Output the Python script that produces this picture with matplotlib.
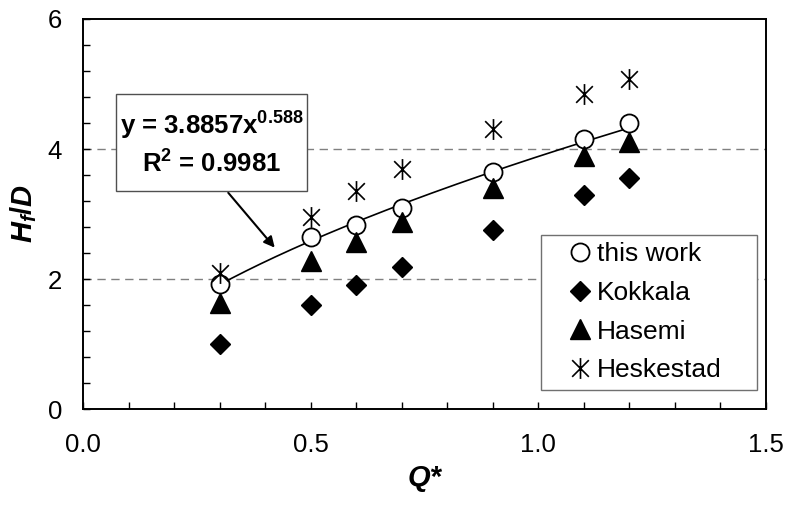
import numpy as np
import matplotlib
matplotlib.use("Agg")
import matplotlib.pyplot as plt
from matplotlib.path import Path
from matplotlib.patches import Rectangle

plt.rcParams['font.family'] = 'Liberation Sans'
plt.rcParams['mathtext.fontset'] = 'custom'
plt.rcParams['mathtext.rm'] = 'Liberation Sans:bold'
plt.rcParams['mathtext.it'] = 'Liberation Sans:bold:italic'
plt.rcParams['mathtext.bf'] = 'Liberation Sans:bold'

# flame height vs. dimensionless heat release rate
q_star = [0.3, 0.5, 0.6, 0.7, 0.9, 1.1, 1.2]
this_work = [1.93, 2.64, 2.83, 3.10, 3.65, 4.15, 4.40]
kokkala = [1.00, 1.60, 1.91, 2.18, 2.75, 3.30, 3.56]
hasemi = [1.63, 2.27, 2.57, 2.88, 3.40, 3.89, 4.11]
heskestad = [2.09, 2.95, 3.36, 3.69, 4.31, 4.85, 5.08]

# power-law trendline y = a * x^b
fit_a = 3.8857
fit_b = 0.588
fit_r2 = 0.9981

# asterisk marker: vertical bar plus an X
star = Path([(0, -1), (0, 1), (-0.8, -0.8), (0.8, 0.8), (-0.8, 0.8), (0.8, -0.8)],
            [Path.MOVETO, Path.LINETO, Path.MOVETO, Path.LINETO, Path.MOVETO, Path.LINETO])

fig = plt.figure(figsize=(7.87, 5.05), dpi=100)
ax = fig.add_axes([0.1055, 0.190, 0.8678, 0.7724])

ax.axhline(2, color='#808080', lw=1, ls=(0, (6, 4)), zorder=0)
ax.axhline(4, color='#808080', lw=1, ls=(0, (6, 4)), zorder=0)

xf = np.linspace(min(q_star), max(q_star), 200)
ax.plot(xf, fit_a * xf ** fit_b, color='black', lw=1.2, zorder=2)

ax.plot(q_star, this_work, 'o', ms=13, mfc='white', mec='black', mew=1.3, ls='none',
        label='this work', zorder=3)
ax.plot(q_star, kokkala, 'D', ms=10, color='black', ls='none', label='Kokkala', zorder=3)
ax.plot(q_star, hasemi, '^', ms=15, color='black', ls='none', label='Hasemi', zorder=3)
ax.plot(q_star, heskestad, marker=star, ms=15, mec='black', mew=1.2, ls='none',
        label='Heskestad', zorder=3)

ax.set_xlim(0, 1.5)
ax.set_ylim(0, 6)
ax.set_xticks([0, 0.5, 1.0, 1.5])
ax.set_xticks(np.arange(0, 1.51, 0.1), minor=True)
ax.set_yticks([0, 2, 4, 6])
ax.set_yticks(np.arange(0, 6.01, 0.4), minor=True)
ax.set_xticklabels(['0.0', '0.5', '1.0', '1.5'])
ax.tick_params(axis='both', which='both', direction='in', length=5, width=1, labelsize=18.5)
ax.tick_params(axis='x', which='major', pad=17)
ax.tick_params(axis='y', which='major', pad=15)
for s in ax.spines.values():
    s.set_linewidth(1.4)

ax.set_xlabel('Q*', fontsize=21, fontweight='bold', style='italic', labelpad=5)
ax.set_ylabel(r'$H_f/D$', fontsize=21, labelpad=6)

# legend with a separate frame
ax.add_patch(Rectangle((0.6706, 0.0487), 0.3162, 0.3973, transform=ax.transAxes,
                       fc='white', ec='#707070', lw=1.0, zorder=4))
leg = ax.legend(loc='upper left', bbox_to_anchor=(0.7123, 0.427), borderaxespad=0,
                borderpad=0, fontsize=19, frameon=False,
                handlelength=0.8, handletextpad=0.25, labelspacing=0.55, numpoints=1)
leg.set_zorder(5)

# trendline equation box
ax.add_patch(Rectangle((0.0483, 0.559), 0.2797, 0.2487, transform=ax.transAxes,
                       fc='white', ec='#505050', lw=1.0, zorder=4))
ax.text(0.188, 0.680, 'y = 3.8857x$^{0.588}$\n' + 'R$^2$ = %.4f' % fit_r2,
        transform=ax.transAxes, ha='center', va='center', fontsize=18.5,
        fontweight='bold', linespacing=1.4, zorder=5)
ax.annotate('', xy=(0.425, 2.45), xytext=(0.315, 3.36),
            arrowprops=dict(arrowstyle='-|>', color='black', lw=1.5, mutation_scale=16))

fig.savefig('out.png', dpi=100)
